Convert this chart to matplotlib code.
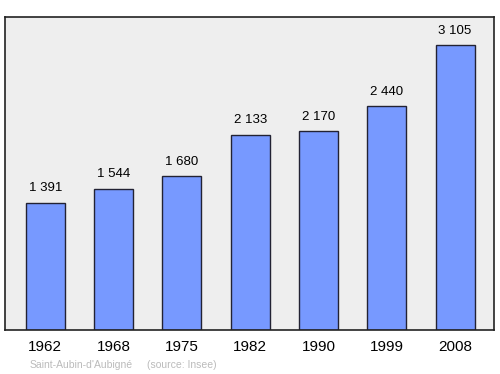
import matplotlib.pyplot as plt

# Data
years = ["1962", "1968", "1975", "1982", "1990", "1999", "2008"]
population = [1391, 1544, 1680, 2133, 2170, 2440, 3105]
value_labels = ["1 391", "1 544", "1 680", "2 133", "2 170", "2 440", "3 105"]
commune = "Saint-Aubin-d'Aubigné"
source = "(source: Insee)"

plt.rcParams['font.family'] = ['Liberation Sans', 'DejaVu Sans']

fig = plt.figure(figsize=(5, 3.74), dpi=100)
ax = fig.add_axes([0.01, 0.1176, 0.978, 0.837])
ax.set_facecolor("#eeeeee")

xs = range(len(years))
ax.bar(xs, population, width=0.57, color="#7799ff", edgecolor="#222233", linewidth=1)

ymax = max(population) * 1.1
for x, v, lab in zip(xs, population, value_labels):
    ax.text(x, v + ymax * 0.027, lab, ha="center", va="bottom", fontsize=9.5)

ax.set_xlim(-0.59, 6.57)
ax.set_ylim(0, ymax)
ax.set_yticks([])
ax.set_xticks(list(xs))
ax.set_xticklabels(years, fontsize=11)
ax.tick_params(axis="x", length=0, pad=7)
for s in ax.spines.values():
    s.set_linewidth(1.2)
    s.set_color("#222222")

fig.text(30 / 500, 1 - 365 / 374, commune, fontsize=7.5, color="#bbbbbb", va="center")
fig.text(147 / 500, 1 - 365 / 374, source, fontsize=7.5, color="#bbbbbb", va="center")

fig.savefig("out.png", dpi=100)
